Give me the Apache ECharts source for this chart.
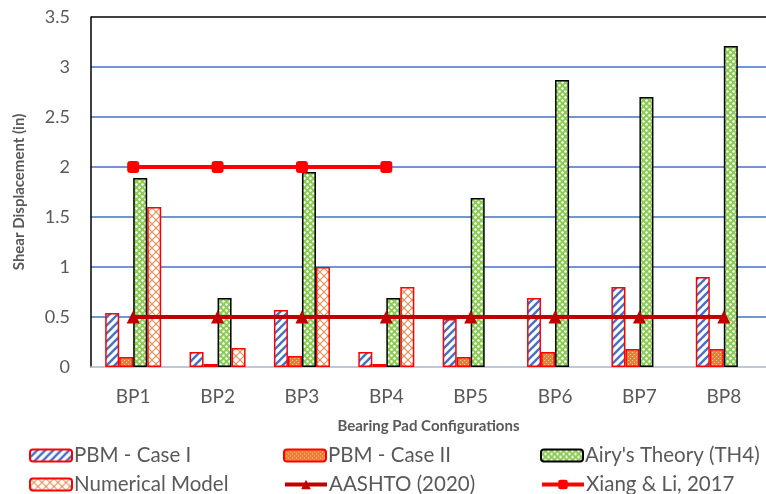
<!DOCTYPE html>
<html>
<head>
<meta charset="utf-8">
<script src="https://cdn.jsdelivr.net/npm/echarts@6/dist/echarts.min.js"></script>
<style>
html,body{margin:0;padding:0;background:#fff;}
#chart{width:766px;height:494px;}
</style>
</head>
<body>
<div id="chart"></div>
<script>
// ---- data ----
const categories = ['BP1','BP2','BP3','BP4','BP5','BP6','BP7','BP8'];
const pbmCase1 = [0.54, 0.15, 0.57, 0.15, 0.48, 0.69, 0.80, 0.90];
const pbmCase2 = [0.10, 0.03, 0.11, 0.03, 0.10, 0.15, 0.18, 0.18];
const airyTheory = [1.89, 0.69, 1.95, 0.69, 1.69, 2.87, 2.70, 3.21];
const numericalModel = [1.60, 0.19, 1.00, 0.80, null, null, null, null];
const aashto = [0.5, 0.5, 0.5, 0.5, 0.5, 0.5, 0.5, 0.5];
const xiangLi = [2, 2, 2, 2, null, null, null, null];
const seriesNames = ['PBM - Case I','PBM - Case II',"Airy's Theory (TH4)",'Numerical Model','AASHTO (2020)','Xiang & Li, 2017'];

// ---- patterns ----
function makeCanvas(w, h, draw) {
  const c = document.createElement('canvas');
  c.width = w; c.height = h;
  const ctx = c.getContext('2d');
  draw(ctx, w, h);
  return c;
}
const stripe = makeCanvas(8, 8, (ctx, w, h) => {
  ctx.fillStyle = '#fff'; ctx.fillRect(0, 0, w, h);
  ctx.strokeStyle = '#4472C4'; ctx.lineWidth = 2.4;
  [0, 8, 16].forEach(c => {
    ctx.beginPath(); ctx.moveTo(-4, c + 4); ctx.lineTo(c + 4, -4); ctx.stroke();
  });
});
const confetti = makeCanvas(4, 4, (ctx, w, h) => {
  ctx.fillStyle = '#ED7D31'; ctx.fillRect(0, 0, w, h);
  ctx.fillStyle = '#F8CBAD';
  ctx.fillRect(0, 0, 1, 1); ctx.fillRect(2, 2, 1, 1);
});
const sphere = makeCanvas(6, 6, (ctx, w, h) => {
  ctx.fillStyle = '#8CCB55'; ctx.fillRect(0, 0, w, h);
  ctx.fillStyle = '#ffffff';
  ctx.beginPath(); ctx.arc(1.5, 1.5, 1.2, 0, Math.PI * 2); ctx.fill();
  ctx.beginPath(); ctx.arc(4.5, 4.5, 1.2, 0, Math.PI * 2); ctx.fill();
});
const lattice = makeCanvas(8, 8, (ctx, w, h) => {
  ctx.fillStyle = '#fff'; ctx.fillRect(0, 0, w, h);
  ctx.strokeStyle = '#F08A4B'; ctx.lineWidth = 1.1;
  ctx.beginPath(); ctx.moveTo(0, 0); ctx.lineTo(8, 8); ctx.stroke();
  ctx.beginPath(); ctx.moveTo(8, 0); ctx.lineTo(0, 8); ctx.stroke();
});
const pat = c => ({ image: c, repeat: 'repeat' });

const font = 'Lato';
const txtColor = '#595959';
const chart = echarts.init(document.getElementById('chart'));

function legendAt(name, left, top) {
  return {
    data: [name], left: left, top: top, padding: 0,
    itemWidth: 42, itemHeight: 12, itemGap: 0,
    lineStyle: { width: 4 },
    textStyle: { fontFamily: font, fontSize: 20.5, color: txtColor, padding: [0, 0, 0, -3] },
    selectedMode: false
  };
}

chart.setOption({
  animation: false,
  grid: { left: 91, right: 0, top: 17, bottom: 127 },
  legend: [
    legendAt(seriesNames[0], 29, 445),
    legendAt(seriesNames[1], 283, 445),
    legendAt(seriesNames[2], 540, 445),
    legendAt(seriesNames[3], 29, 474),
    legendAt(seriesNames[4], 283, 474),
    legendAt(seriesNames[5], 540, 474)
  ],
  xAxis: {
    type: 'category', data: categories,
    name: 'Bearing Pad Configurations', nameLocation: 'middle', nameGap: 52,
    nameTextStyle: { fontFamily: font, fontSize: 15, fontWeight: 'bold', color: txtColor },
    axisLine: { lineStyle: { color: '#D9D9D9', width: 1.5 } },
    axisTick: { show: false },
    axisLabel: { fontFamily: font, fontSize: 19, color: txtColor, margin: 20 }
  },
  yAxis: {
    type: 'value', min: 0, max: 3.5, interval: 0.5,
    name: 'Shear Displacement (in)', nameLocation: 'middle', nameGap: 64,
    nameTextStyle: { fontFamily: font, fontSize: 15, fontWeight: 'bold', color: txtColor },
    axisLine: { show: true, lineStyle: { color: '#000', width: 1.5 } },
    axisTick: { show: false },
    axisLabel: { fontFamily: font, fontSize: 18, color: txtColor, margin: 21 },
    splitLine: { lineStyle: { color: ['#4472C4','#4472C4','#4472C4','#4472C4','#4472C4','#4472C4','#4472C4','#000'], width: 1.5 } }
  },
  series: [
    { name: seriesNames[0], type: 'bar', data: pbmCase1, barGap: '0%', barCategoryGap: '33.6%',
      itemStyle: { color: pat(stripe), borderColor: '#FF0000', borderWidth: 1.5 } },
    { name: seriesNames[1], type: 'bar', data: pbmCase2, barGap: '0%', barCategoryGap: '33.6%',
      itemStyle: { color: pat(confetti), borderColor: '#FF0000', borderWidth: 1.5 } },
    { name: seriesNames[2], type: 'bar', data: airyTheory, barGap: '0%', barCategoryGap: '33.6%',
      itemStyle: { color: pat(sphere), borderColor: '#000', borderWidth: 1.5 } },
    { name: seriesNames[3], type: 'bar', data: numericalModel, barGap: '0%', barCategoryGap: '33.6%',
      itemStyle: { color: pat(lattice), borderColor: '#FF0000', borderWidth: 1.5 } },
    { name: seriesNames[4], type: 'line', data: aashto, z: 5,
      symbol: 'triangle', symbolSize: 13,
      lineStyle: { color: '#C00000', width: 4 },
      itemStyle: { color: '#C00000' } },
    { name: seriesNames[5], type: 'line', data: xiangLi, z: 5,
      symbol: 'roundRect', symbolSize: 12,
      lineStyle: { color: '#FF0000', width: 4 },
      itemStyle: { color: '#FF0000' } }
  ]
});
</script>
</body>
</html>
